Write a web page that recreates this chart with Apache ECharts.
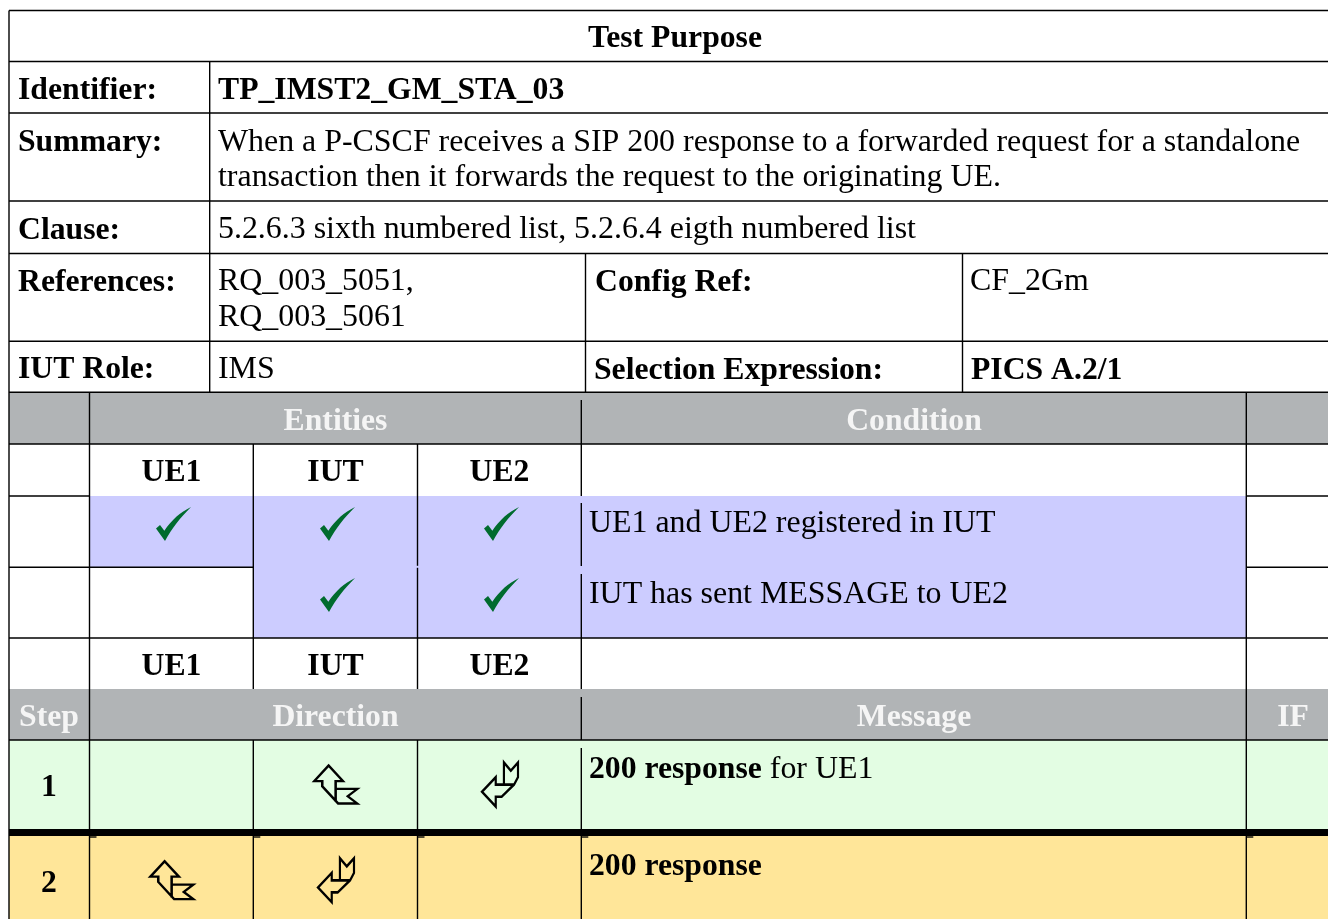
<!DOCTYPE html>
<html>
<head>
<meta charset="utf-8">
<style>html,body{margin:0;padding:0;background:#fff}#main{width:1328px;height:919px}</style>
<script src="https://cdn.jsdelivr.net/npm/echarts@6/dist/echarts.min.js"></script>
</head>
<body>
<div id="main"></div>
<script>
// table content
var titleText = 'Test Purpose';
var infoLabels = ['Identifier:', 'Summary:', 'Clause:', 'References:', 'IUT Role:'];
var identifierText = 'TP_IMST2_GM_STA_03';
var summaryLines = ['When a P-CSCF receives a SIP 200 response to a forwarded request for a standalone',
  'transaction then it forwards the request to the originating UE.'];
var clauseText = '5.2.6.3 sixth numbered list, 5.2.6.4 eigth numbered list';
var referenceLines = ['RQ_003_5051,', 'RQ_003_5061'];
var configLabel = 'Config Ref:';
var configValue = 'CF_2Gm';
var roleValue = 'IMS';
var selectionLabel = 'Selection Expression:';
var selectionValue = 'PICS A.2/1';
var sectionHeads = ['Entities', 'Condition'];
var entityNames = ['UE1', 'IUT', 'UE2'];
var conditions = ['UE1 and UE2 registered in IUT', 'IUT has sent MESSAGE to UE2'];
var conditionChecks = [[1, 1, 1], [0, 1, 1]];
var stepHeads = ['Step', 'Direction', 'Message', 'IF'];
var stepNumbers = ['1', '2'];
var stepMessages = ['200 response', '200 response'];
var stepMessageTails = [' for UE1', ''];
var stepArrows = [['', 'up', 'down'], ['up', 'down', '']];

// table layout, in page pixels
var X = { l: 9, a: 89.5, b: 209.7, c: 253.3, d: 417.5, e: 581.3, f: 585.5, g: 962.5, h: 1246.3, r: 1328 };
var Y = [10.5, 61.5, 113, 201, 253.5, 341.3, 392.3, 444, 496, 567.3, 638, 689, 740, 829, 836, 919];
var columnMid = [171.5, 335.5, 499.5];

var GREY = '#b1b4b6', BLUE = '#ccccff', GREEN = '#e3fde3', YELLOW = '#ffe699', INK = '#000';
var fills = [
  [X.l, Y[6], X.r, Y[7], GREY],
  [X.a, Y[8], X.h, Y[9], BLUE],
  [X.c, Y[8], X.h, Y[10], BLUE],
  [X.l, Y[11], X.r, Y[12], GREY],
  [X.l, Y[12], X.r, Y[13], GREEN],
  [X.l, Y[14], X.r, Y[15], YELLOW]
];
var rules = [];
[0, 1, 2, 3, 4, 5, 6, 7, 10, 12].forEach(function (i) { rules.push([X.l, Y[i], X.r, Y[i]]); });
rules.push([X.l, Y[8], X.a, Y[8]], [X.h, Y[8], X.r, Y[8]], [X.l, Y[9], X.c, Y[9]], [X.h, Y[9], X.r, Y[9]]);
rules.push([X.l, Y[0], X.l, Y[15]]);
rules.push([X.b, Y[1], X.b, Y[6]], [X.f, Y[4], X.f, Y[6]], [X.g, Y[4], X.g, Y[6]]);
rules.push([X.a, Y[6], X.a, Y[15]], [X.h, Y[6], X.h, Y[15]]);
rules.push([X.c, Y[7], X.c, Y[11]], [X.d, Y[7], X.d, Y[9] - 1.5], [X.d, Y[9] + 0.5, X.d, Y[11]]);
rules.push([X.c, Y[12], X.c, Y[15]], [X.d, Y[12], X.d, Y[15]]);
rules.push([X.e, 400, X.e, Y[8]], [X.e, 503, X.e, 566], [X.e, 574, X.e, Y[11]]);
rules.push([X.e, 697, X.e, Y[12]], [X.e, 748, X.e, Y[13]], [X.e, Y[14], X.e, Y[15]]);
// small stubs under the heavy rule
[X.a, X.c, X.d, X.e, X.h].forEach(function (x) { rules.push([x, 837, x + 7, 837]); });

var SERIF = '"Liberation Serif", serif';
var FONT = '31.9px ' + SERIF, BOLD = 'bold 31.7px ' + SERIF;
var labels = [];
function put(text, x, y, font, align, fill) {
  labels.push({ text: text, x: x, y: y + 2, font: font, align: align || 'left', fill: fill || INK });
}
put(titleText, 675, 37, BOLD, 'center');
var infoY = [89, 141, 229, 281, 368];
infoLabels.forEach(function (t, i) { put(t, 18, infoY[i], BOLD); });
put(identifierText, 218, 89, BOLD);
put(summaryLines[0], 218, 141, FONT);
put(summaryLines[1], 218, 176, FONT);
put(clauseText, 218, 228, FONT);
put(referenceLines[0], 218, 280, FONT);
put(referenceLines[1], 218, 316, FONT);
put(configLabel, 595, 281, BOLD);
put(configValue, 970, 280, FONT);
put(roleValue, 218, 368, FONT);
put(selectionLabel, 594, 369, BOLD);
put(selectionValue, 971, 369, BOLD);
put(sectionHeads[0], 335.5, 420, BOLD, 'center', '#f5f5f5');
put(sectionHeads[1], 914, 420, BOLD, 'center', '#f5f5f5');
entityNames.forEach(function (t, i) {
  put(t, columnMid[i], 471, BOLD, 'center');
  put(t, columnMid[i], 665, BOLD, 'center');
});
put(conditions[0], 589, 522, FONT);
put(conditions[1], 589, 593, FONT);
var stepHeadX = [49, 335.5, 914, 1293];
stepHeads.forEach(function (t, i) { put(t, stepHeadX[i], 716, BOLD, 'center', '#f5f5f5'); });
var stepY = [786, 882], messageY = [768, 865];
stepNumbers.forEach(function (t, i) {
  put(t, 49, stepY[i], BOLD, 'center');
  put('{b|' + stepMessages[i] + '}' + stepMessageTails[i], 589, messageY[i], FONT);
});

// glyphs
var CHECK = 'path://M78 115L90 105L103 122C125 90 150 68 183 52C150 85 125 115 105 152Z';
var ARROW_UP = 'path://M115 60L70 105L95 105L95 120L145 170L205 170L175 149L205 128L137 128L137 105L160 105ZM137 128L137 165';
var ARROW_DOWN = 'path://M132 50L153 75L175 50L175 95L163 118L125 155L107 155L107 185L65 140L107 95L107 118L132 118ZM132 118L163 118';

var checkPoints = [];
conditionChecks.forEach(function (row, r) {
  row.forEach(function (on, c) {
    if (on) checkPoints.push([columnMid[c] + 2, 524 + r * 71]);
  });
});
var upPoints = [], downPoints = [];
stepArrows.forEach(function (row, r) {
  row.forEach(function (kind, c) {
    if (kind === 'up') upPoints.push([columnMid[c] + 0.3, 784.5 + r * 95.7]);
    if (kind === 'down') downPoints.push([columnMid[c] + 0.5, 784.5 + r * 95.7]);
  });
});

var myChart = echarts.init(document.getElementById('main'), null, { renderer: 'canvas' });
myChart.setOption({
  animation: false,
  backgroundColor: '#fff',
  grid: { left: 0, right: 0, top: 0, bottom: 0 },
  xAxis: { type: 'value', min: 0, max: 1328, show: false },
  yAxis: { type: 'value', min: 0, max: 919, inverse: true, show: false },
  series: [
    {
      type: 'custom', coordinateSystem: 'cartesian2d', silent: true, z: 1,
      data: fills,
      encode: { x: [0, 2], y: [1, 3] },
      renderItem: function (params, api) {
        var f = fills[params.dataIndex];
        var p0 = api.coord([f[0], f[1]]), p1 = api.coord([f[2], f[3]]);
        return { type: 'rect', shape: { x: p0[0], y: p0[1], width: p1[0] - p0[0], height: p1[1] - p0[1] }, style: { fill: f[4] } };
      }
    },
    {
      type: 'custom', coordinateSystem: 'cartesian2d', silent: true, z: 2,
      data: rules,
      encode: { x: [0, 2], y: [1, 3] },
      renderItem: function (params, api) {
        var r = rules[params.dataIndex];
        var p0 = api.coord([r[0], r[1]]), p1 = api.coord([r[2], r[3]]);
        return { type: 'line', shape: { x1: p0[0], y1: p0[1], x2: p1[0], y2: p1[1] }, style: { stroke: INK, lineWidth: 1.4 } };
      }
    },
    {
      // heavy rule between the two steps
      type: 'custom', coordinateSystem: 'cartesian2d', silent: true, z: 3,
      data: [[X.l, Y[13], X.r, Y[14]]],
      encode: { x: [0, 2], y: [1, 3] },
      renderItem: function (params, api) {
        var p0 = api.coord([X.l, Y[13]]), p1 = api.coord([X.r, Y[14]]);
        return { type: 'rect', shape: { x: p0[0], y: p0[1], width: p1[0] - p0[0], height: p1[1] - p0[1] }, style: { fill: INK } };
      }
    },
    {
      type: 'custom', coordinateSystem: 'cartesian2d', silent: true, z: 5,
      data: labels.map(function (l) { return [l.x, l.y]; }),
      encode: { x: 0, y: 1 },
      renderItem: function (params, api) {
        var l = labels[params.dataIndex];
        var p = api.coord([l.x, l.y]);
        return {
          type: 'text',
          style: {
            x: p[0], y: p[1], text: l.text, fill: l.fill, font: l.font,
            textAlign: l.align, textVerticalAlign: 'middle',
            rich: { b: { font: BOLD, fill: INK } }
          }
        };
      }
    },
    {
      type: 'scatter', z: 4, silent: true, data: checkPoints,
      symbol: CHECK, symbolSize: [35, 34], itemStyle: { color: '#006b2e', opacity: 1 }
    },
    {
      type: 'scatter', z: 4, silent: true, data: upPoints,
      symbol: ARROW_UP, symbolSize: [43, 38],
      itemStyle: { color: 'transparent', borderColor: INK, borderWidth: 2.4, opacity: 1 }
    },
    {
      type: 'scatter', z: 4, silent: true, data: downPoints,
      symbol: ARROW_DOWN, symbolSize: [36, 44],
      itemStyle: { color: 'transparent', borderColor: INK, borderWidth: 2.4, opacity: 1 }
    }
  ]
});
</script>
</body>
</html>
